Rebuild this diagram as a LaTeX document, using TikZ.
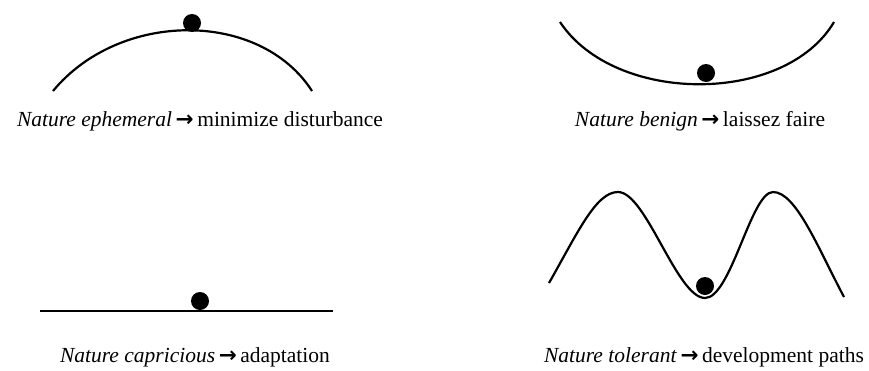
\documentclass[tikz,border=0pt]{standalone}
\usepackage{fontspec}
\setmainfont{Liberation Serif}
\newfontfamily\arrowfont{DejaVu Sans}
\usetikzlibrary{positioning}
\newcommand{\thento}{\,{\arrowfont\bfseries →}\,}

\begin{document}
\begin{tikzpicture}[x=1pt,y=-1pt,font=\fontsize{21.5}{25}\selectfont,
  land/.style={draw,line width=2.2pt},
  ball/.style={circle,fill=black,minimum size=18pt,inner sep=0pt},
  lbl/.style={anchor=base,inner sep=0pt}]
\useasboundingbox (0,0) rectangle (869,370);

%============================== a: hill ==============================
\draw[land] (53,91) .. controls (120,10) and (260,10) .. (312,91);
\node[ball] (ballA) at (192,23) {};
\node[lbl] (lblA) at (200,126) {\textit{Nature ephemeral}\thento minimize disturbance};

%============================== b: bowl ==============================
\draw[land] (560,22) .. controls (615,105) and (785,105) .. (834,22);
\node[ball] (ballB) at (706,73) {};
\node[lbl] (lblB) at (700,126) {\textit{Nature benign}\thento laissez faire};

%============================== c: flat ==============================
\draw[land,line width=2.6pt] (40,311) -- (333,311);
\node[ball] (ballC) at (200,301) {};
\node[lbl] (lblC) at (195,362) {\textit{Nature capricious}\thento adaptation};

%============================== d: two hills ==============================
\draw[land] (549,283) .. controls (578,232) and (596,192) .. (618,192)
  .. controls (646,192) and (677,298) .. (705,298)
  .. controls (731,298) and (751,192) .. (773,192)
  .. controls (796,192) and (818,248) .. (844,297);
\node[ball] (ballD) at (705,286) {};
\node[lbl] (lblD) at (704,362) {\textit{Nature tolerant}\thento development paths};
\end{tikzpicture}
\end{document}
